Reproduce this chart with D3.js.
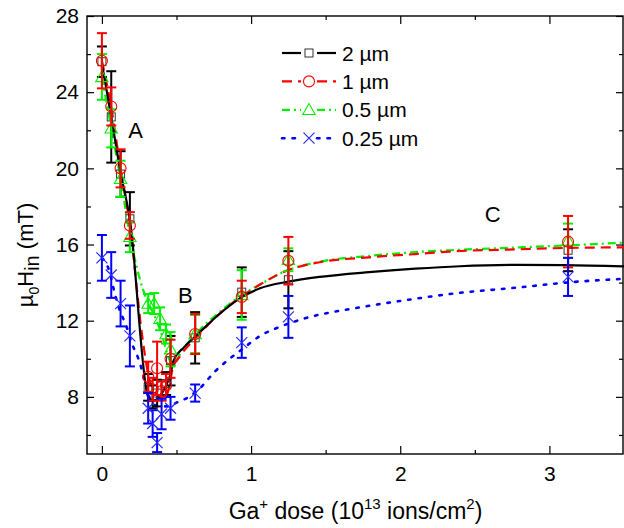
<!DOCTYPE html>
<html>
<head>
<meta charset="utf-8">
<script src="https://cdn.jsdelivr.net/npm/d3@7"></script>
<style>
  html, body { margin: 0; padding: 0; background: #fff; }
  svg { display: block; font-family: "Liberation Sans", Arial, sans-serif; }
</style>
</head>
<body>
<svg id="chart" width="624" height="528"></svg>
<script>
// Internal field vs Ga+ dose for four wire widths

const seriesNames = ["2 µm", "1 µm", "0.5 µm", "0.25 µm"];
const seriesColors = ["#000000", "#ff0000", "#00f000", "#0000ff"];

// measured points (dose in 1e13 ions/cm², field in mT, error in mT)
const dose2   = [0, 0.0625, 0.125, 0.1875, 0.31, 0.34, 0.37, 0.43, 0.46, 0.625, 0.9375, 1.25, 3.125];
const field2  = [25.6, 22.7, 19.7, 17.35, 8.5, 8.0, 8.2, 8.7, 9.9, 11.1, 13.5, 14.15, 15.7];
const err2    = [0.8, 2.4, 1.2, 1.4, 0.7, 0.6, 0.7, 0.6, 1.3, 1.35, 1.3, 1.5, 1.1];

const dose1   = [0, 0.0625, 0.125, 0.1875, 0.31, 0.34, 0.37, 0.40, 0.43, 0.46, 0.625, 0.9375, 1.25, 3.125];
const field1  = [25.65, 23.25, 20.0, 17.0, 9.05, 8.4, 9.5, 8.3, 8.6, 10.0, 11.3, 13.25, 15.15, 16.15];
const err1    = [1.45, 1.0, 1.0, 0.7, 0.8, 0.6, 1.4, 0.5, 0.6, 1.0, 1.05, 0.85, 1.25, 1.35];

const dose05  = [0, 0.0625, 0.125, 0.1875, 0.31, 0.35, 0.39, 0.43, 0.46, 0.625, 0.9375, 1.25, 3.125];
const field05 = [24.8, 22.1, 19.45, 16.4, 12.9, 12.9, 12.1, 11.3, 10.5, 11.3, 13.35, 15.2, 16.2];
const err05   = [1.2, 1.0, 0.95, 0.8, 0.5, 0.55, 0.6, 0.5, 0.9, 1.0, 1.3, 0.6, 0.9];

const dose025  = [0, 0.0625, 0.125, 0.1875, 0.31, 0.34, 0.37, 0.40, 0.46, 0.625, 0.9375, 1.25, 3.125];
const field025 = [15.3, 14.4, 12.9, 11.2, 7.4, 6.6, 5.6, 7.1, 7.4, 8.2, 10.85, 12.2, 14.3];
const err025   = [1.2, 1.2, 1.2, 1.6, 0.8, 0.7, 0.5, 0.8, 0.6, 0.45, 0.8, 1.1, 1.0];

// guide-to-the-eye curves
const fitDose2  = [0, 0.0625, 0.125, 0.1875, 0.31, 0.34, 0.43, 0.46, 0.48, 0.55, 0.63, 0.78, 0.94, 1.06, 1.25, 1.46, 1.79, 2.1, 2.4, 2.8, 3.1, 3.5];
const fitField2 = [25.5, 22.7, 19.8, 17.3, 8.0, 7.8, 8.6, 9.2, 9.9, 10.6, 11.2, 12.3, 13.25, 13.7, 14.05, 14.3, 14.55, 14.73, 14.86, 14.93, 14.92, 14.85];

const fitDose1  = [0, 0.0625, 0.125, 0.1875, 0.27, 0.31, 0.36, 0.41, 0.44, 0.475, 0.52, 0.63, 0.78, 0.94, 1.06, 1.23, 1.46, 1.79, 2.1, 2.33, 2.8, 3.11, 3.5];
const fitField1 = [25.65, 23.2, 20.0, 17.0, 11.2, 9.2, 8.2, 7.9, 8.2, 9.5, 10.1, 11.1, 12.3, 13.3, 13.9, 14.6, 15.07, 15.33, 15.5, 15.63, 15.75, 15.82, 15.85];

const fitDose05  = [0, 0.0625, 0.125, 0.1875, 0.25, 0.3, 0.35, 0.4, 0.45, 0.48, 0.52, 0.63, 0.78, 0.94, 1.06, 1.23, 1.46, 1.79, 2.1, 2.33, 2.8, 3.11, 3.5];
const fitField05 = [24.8, 22.1, 19.45, 16.5, 14.3, 13.1, 12.3, 11.3, 10.0, 9.6, 10.2, 11.3, 12.4, 13.35, 13.9, 14.6, 15.1, 15.4, 15.6, 15.7, 15.85, 15.95, 16.1];

const fitDose025  = [0, 0.05, 0.084, 0.117, 0.162, 0.206, 0.24, 0.263, 0.29, 0.33, 0.38, 0.44, 0.5, 0.56, 0.65, 0.76, 0.84, 0.94, 1.06, 1.2, 1.35, 1.73, 2.1, 2.33, 2.8, 3.11, 3.5];
const fitField025 = [15.3, 14.6, 13.5, 12.6, 11.75, 10.7, 10.1, 9.55, 8.7, 7.8, 7.5, 7.5, 7.7, 7.9, 8.4, 9.35, 9.9, 10.5, 11.2, 11.7, 12.1, 12.7, 13.15, 13.4, 13.75, 14.0, 14.2];

// axis ticks
const xMajorTicks = [0, 1, 2, 3];
const xMinorTicks = [0.5, 1.5, 2.5, 3.5];
const yMajorTicks = [8, 12, 16, 20, 24, 28];
const yMinorTicks = [6, 10, 14, 18, 22, 26];

// region labels
const regionNames = ["A", "B", "C"];
const regionDose  = [0.225, 0.56, 2.62];
const regionField = [22.0, 13.3, 17.6];

const points = [
  { dose: dose2,   field: field2,   err: err2 },
  { dose: dose1,   field: field1,   err: err1 },
  { dose: dose05,  field: field05,  err: err05 },
  { dose: dose025, field: field025, err: err025 }
];
const fits = [
  { dose: fitDose2,   field: fitField2 },
  { dose: fitDose1,   field: fitField1 },
  { dose: fitDose05,  field: fitField05 },
  { dose: fitDose025, field: fitField025 }
];
const dashes = [null, "10,6", "8,4,2,4", "2.5,8"];
const lineWidths = [2.2, 2.2, 2.2, 2.6];

const svg = d3.select("#chart");
const W = 624, H = 528;
const m = { left: 87, right: 0, top: 16, bottom: 74 };

const x = d3.scaleLinear().domain([-0.1, 3.5]).range([m.left, W - m.right]);
const y = d3.scaleLinear().domain([5, 28]).range([H - m.bottom, m.top]);

const plotW = W - m.left - m.right, plotH = H - m.top - m.bottom;

svg.append("defs").append("clipPath").attr("id", "plot-clip")
  .append("rect").attr("x", m.left).attr("y", m.top).attr("width", plotW).attr("height", plotH);

// ----- axes -----
function styleAxis(g) {
  g.select(".domain").remove();
  g.selectAll(".tick line").attr("stroke", "#000").attr("stroke-width", 1.2);
  g.selectAll(".tick text").attr("fill", "#000").attr("font-size", 21)
    .attr("font-family", "'Liberation Sans', Arial, sans-serif");
}

svg.append("g").attr("transform", `translate(0,${H - m.bottom})`)
  .call(d3.axisBottom(x).tickValues(xMajorTicks).tickSize(-8).tickPadding(12).tickFormat(d3.format("d")))
  .call(styleAxis);
svg.append("g").attr("transform", `translate(0,${H - m.bottom})`)
  .call(d3.axisBottom(x).tickValues(xMinorTicks).tickSize(-4).tickFormat(""))
  .call(styleAxis);
svg.append("g").attr("transform", `translate(0,${m.top})`)
  .call(d3.axisTop(x).tickValues(xMajorTicks).tickSize(-8).tickFormat(""))
  .call(styleAxis);
svg.append("g").attr("transform", `translate(0,${m.top})`)
  .call(d3.axisTop(x).tickValues(xMinorTicks).tickSize(-4).tickFormat(""))
  .call(styleAxis);

svg.append("g").attr("transform", `translate(${m.left},0)`)
  .call(d3.axisLeft(y).tickValues(yMajorTicks).tickSize(-7).tickPadding(8).tickFormat(d3.format("d")))
  .call(styleAxis);
svg.append("g").attr("transform", `translate(${m.left},0)`)
  .call(d3.axisLeft(y).tickValues(yMinorTicks).tickSize(-4).tickFormat(""))
  .call(styleAxis);
svg.append("g").attr("transform", `translate(${W - m.right - 1},0)`)
  .call(d3.axisRight(y).tickValues(yMajorTicks).tickSize(-7).tickFormat(""))
  .call(styleAxis);
svg.append("g").attr("transform", `translate(${W - m.right - 1},0)`)
  .call(d3.axisRight(y).tickValues(yMinorTicks).tickSize(-4).tickFormat(""))
  .call(styleAxis);

// frame
svg.append("rect").attr("x", m.left).attr("y", m.top)
  .attr("width", plotW - 1).attr("height", plotH)
  .attr("fill", "none").attr("stroke", "#000").attr("stroke-width", 1.4);

// ----- curves -----
const line = d3.line().x(d => x(d[0])).y(d => y(d[1])).curve(d3.curveMonotoneX);
const plot = svg.append("g").attr("clip-path", "url(#plot-clip)");

[3, 2, 1, 0].forEach(i => {
  const f = fits[i];
  plot.append("path")
    .datum(f.dose.map((d, k) => [d, f.field[k]]))
    .attr("d", line)
    .attr("fill", "none")
    .attr("stroke", seriesColors[i])
    .attr("stroke-width", lineWidths[i])
    .attr("stroke-linecap", i === 3 ? "round" : "butt")
    .attr("stroke-dasharray", dashes[i]);
});

// ----- markers -----
function drawMarker(g, i, cx, cy) {
  const c = seriesColors[i];
  if (i === 0) {
    g.append("rect").attr("x", cx - 4).attr("y", cy - 4).attr("width", 8).attr("height", 8)
      .attr("fill", "none").attr("stroke", "#333").attr("stroke-width", 1);
  } else if (i === 1) {
    g.append("circle").attr("cx", cx).attr("cy", cy).attr("r", 5.5)
      .attr("fill", "none").attr("stroke", c).attr("stroke-width", 1.1);
  } else if (i === 2) {
    const s = 6.2;
    g.append("path")
      .attr("d", `M${cx},${cy - s}L${cx + s},${cy + s * 0.75}L${cx - s},${cy + s * 0.75}Z`)
      .attr("fill", "none").attr("stroke", c).attr("stroke-width", 1.1);
  } else {
    const s = 5.5;
    g.append("path")
      .attr("d", `M${cx - s},${cy - s}L${cx + s},${cy + s}M${cx - s},${cy + s}L${cx + s},${cy - s}`)
      .attr("fill", "none").attr("stroke", "#2a2aff").attr("stroke-width", 1.2);
  }
}

[0, 2, 1, 3].forEach(i => {
  const p = points[i];
  const g = plot.append("g");
  p.dose.forEach((d, k) => {
    const cx = x(d);
    const y0 = y(p.field[k] - p.err[k]), y1 = y(p.field[k] + p.err[k]);
    g.append("line").attr("x1", cx).attr("x2", cx).attr("y1", y0).attr("y2", y1)
      .attr("stroke", seriesColors[i]).attr("stroke-width", 2);
    [y0, y1].forEach(yy => g.append("line")
      .attr("x1", cx - 5).attr("x2", cx + 5).attr("y1", yy).attr("y2", yy)
      .attr("stroke", seriesColors[i]).attr("stroke-width", 2));
  });
  p.dose.forEach((d, k) => drawMarker(g, i, x(d), y(p.field[k])));
});

// ----- region labels -----
regionNames.forEach((t, k) => {
  svg.append("text").attr("x", x(regionDose[k])).attr("y", y(regionField[k]))
    .attr("text-anchor", "middle").attr("dominant-baseline", "central")
    .attr("font-size", 22).attr("fill", "#000").text(t);
});

// ----- legend -----
const legend = svg.append("g");
seriesNames.forEach((name, i) => {
  const ly = 53 + i * 28.4;
  const lx0 = 282, lx1 = 336, mx = 309;
  legend.append("line").attr("x1", lx0).attr("x2", mx - 8).attr("y1", ly).attr("y2", ly)
    .attr("stroke", seriesColors[i]).attr("stroke-width", lineWidths[i])
    .attr("stroke-dasharray", dashes[i]).attr("stroke-linecap", i === 3 ? "round" : "butt");
  legend.append("line").attr("x1", mx + 8).attr("x2", lx1).attr("y1", ly).attr("y2", ly)
    .attr("stroke", seriesColors[i]).attr("stroke-width", lineWidths[i])
    .attr("stroke-dasharray", dashes[i]).attr("stroke-linecap", i === 3 ? "round" : "butt");
  drawMarker(legend, i, mx, ly);
  legend.append("text").attr("x", 342).attr("y", ly).attr("dominant-baseline", "central")
    .attr("font-size", 21).attr("fill", "#000").text(name);
});

// ----- axis titles -----
const xt = svg.append("text").attr("x", (m.left + W - m.right) / 2).attr("y", 519)
  .attr("text-anchor", "middle").attr("font-size", 23).attr("fill", "#000");
xt.append("tspan").text("Ga");
xt.append("tspan").attr("dy", -10).attr("font-size", 15).text("+");
xt.append("tspan").attr("dy", 10).text(" dose (10");
xt.append("tspan").attr("dy", -10).attr("font-size", 15).text("13");
xt.append("tspan").attr("dy", 10).text(" ions/cm");
xt.append("tspan").attr("dy", -10).attr("font-size", 15).text("2");
xt.append("tspan").attr("dy", 10).text(")");

const yt = svg.append("text")
  .attr("transform", `translate(33,255) rotate(-90)`)
  .attr("text-anchor", "middle").attr("font-size", 22).attr("fill", "#000");
yt.append("tspan").text("µ");
yt.append("tspan").attr("dy", 6).attr("font-size", 14).text("0");
yt.append("tspan").attr("dy", -6).text("H");
yt.append("tspan").attr("dy", 6).attr("font-size", 20).text("in");
yt.append("tspan").attr("dy", -6).text(" (mT)");
</script>
</body>
</html>
